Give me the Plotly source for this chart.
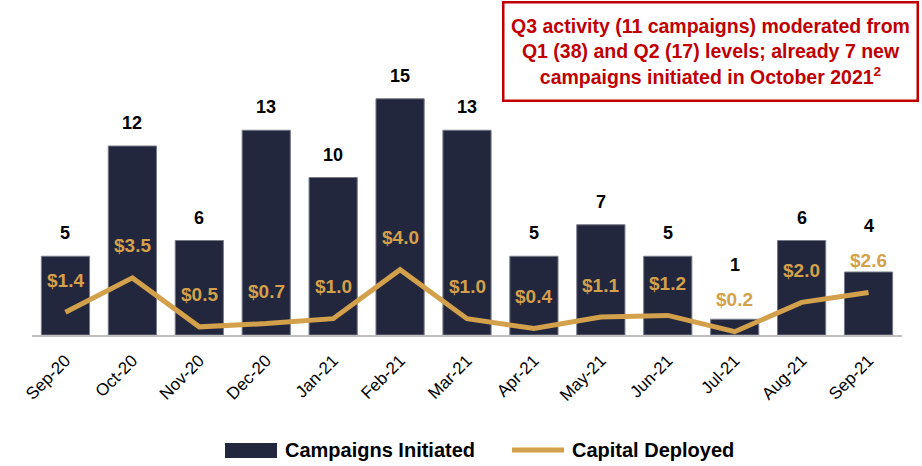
import plotly.graph_objects as go

months = ["Sep-20", "Oct-20", "Nov-20", "Dec-20", "Jan-21", "Feb-21", "Mar-21",
          "Apr-21", "May-21", "Jun-21", "Jul-21", "Aug-21", "Sep-21"]
campaigns = [5, 12, 6, 13, 10, 15, 13, 5, 7, 5, 1, 6, 4]
capital = [1.4, 3.5, 0.5, 0.7, 1.0, 4.0, 1.0, 0.4, 1.1, 1.2, 0.2, 2.0, 2.6]

NAVY = "#23273d"
GOLD = "#d3a04b"
RED = "#c00000"
FONT = "Liberation Sans, Arial, sans-serif"

W, H = 922, 466
ML, MR, MT, MB = 32, 20, 20, 131
PLOT_W = W - ML - MR
PLOT_H = H - MT - MB
Y_MAX = 20.0
Y2_MAX = 19.3


def px_y(v):
    return PLOT_H * v / Y_MAX


def px_y2(v):
    return PLOT_H * v / Y2_MAX


def paper_x(px):
    return (px - ML) / PLOT_W


def paper_y(py):
    return (H - MB - py) / PLOT_H


fig = go.Figure()
fig.add_trace(go.Bar(
    x=months, y=campaigns, name="Campaigns Initiated",
    marker=dict(color=NAVY, line=dict(color="#777a89", width=1)),
    hoverinfo="skip", showlegend=False,
))
fig.add_trace(go.Scatter(
    x=months, y=capital, name="Capital Deployed", yaxis="y2",
    mode="lines", line=dict(color=GOLD, width=5),
    hoverinfo="skip", showlegend=False,
))

CAP_SHIFT = 32
annotations = []
for m, c, v in zip(months, campaigns, capital):
    cap_h = px_y2(v) + CAP_SHIFT
    cnt_h = max(px_y(c) + 23, cap_h + 35)
    annotations.append(dict(
        x=m, y=v, xref="x", yref="y2", text=f"<b>${v:.1f}</b>", showarrow=False,
        yanchor="middle", yshift=CAP_SHIFT,
        font=dict(family=FONT, size=19, color=GOLD),
    ))
    annotations.append(dict(
        x=m, y=c, xref="x", yref="y", text=f"<b>{c}</b>", showarrow=False,
        yanchor="middle", yshift=cnt_h - px_y(c),
        font=dict(family=FONT, size=18, color="#000000"),
    ))

annotations.append(dict(
    x=paper_x(919), y=paper_y(1), xref="paper", yref="paper", xanchor="right", yanchor="top",
    text="<b>Q3 activity (11 campaigns) moderated from<br>Q1 (38) and Q2 (17) levels; already 7 new<br>campaigns initiated in October 2021<sup>2</sup></b>",
    showarrow=False, align="center", valign="middle",
    width=404, height=88,
    font=dict(family=FONT, size=19.5, color=RED),
    bordercolor=RED, borderwidth=2.5, borderpad=4, bgcolor="white",
))

# custom legend
annotations.append(dict(
    x=paper_x(283), y=paper_y(450), xref="paper", yref="paper", xanchor="left", yanchor="middle",
    text="<b>Campaigns Initiated</b>", showarrow=False,
    font=dict(family=FONT, size=20, color="#000000"),
))
annotations.append(dict(
    x=paper_x(570), y=paper_y(450), xref="paper", yref="paper", xanchor="left", yanchor="middle",
    text="<b>Capital Deployed</b>", showarrow=False,
    font=dict(family=FONT, size=20, color="#000000"),
))
shapes = [
    dict(type="rect", xref="paper", yref="paper",
         x0=paper_x(225), x1=paper_x(277), y0=paper_y(458), y1=paper_y(443),
         fillcolor=NAVY, line=dict(width=0)),
    dict(type="line", xref="paper", yref="paper",
         x0=paper_x(512), x1=paper_x(564), y0=paper_y(450), y1=paper_y(450),
         line=dict(color=GOLD, width=5)),
]

fig.update_layout(
    width=W, height=H,
    margin=dict(l=ML, r=MR, t=MT, b=MB),
    plot_bgcolor="white", paper_bgcolor="white",
    bargap=0.28,
    showlegend=False,
    hovermode=False,
    xaxis=dict(showgrid=False, showline=True, linecolor="#bfbfbf", linewidth=2,
               ticks="", tickangle=-45, ticklabelstandoff=7,
               tickfont=dict(family=FONT, size=17, color="#000000")),
    yaxis=dict(range=[0, Y_MAX], visible=False, showgrid=False),
    yaxis2=dict(range=[0, Y2_MAX], overlaying="y", visible=False, showgrid=False),
    annotations=annotations,
    shapes=shapes,
)

fig.write_html(
    "out.html",
    config={"displayModeBar": False, "staticPlot": True},
    post_script="document.body.style.margin='0';document.body.style.overflow='hidden';",
)
